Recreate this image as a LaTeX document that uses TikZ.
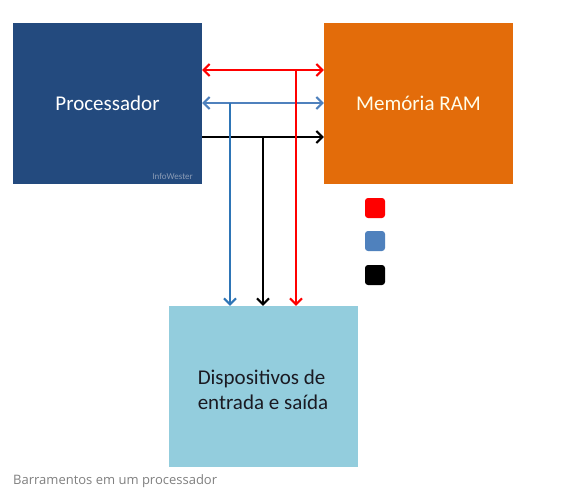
\documentclass[tikz,border=0pt]{standalone}
\usepackage{fontspec}
\setmainfont{Carlito}
\newfontfamily\capfont{Open Sans}
\usetikzlibrary{arrows.meta}
\definecolor{procblue}{HTML}{234A7E}
\definecolor{ramorange}{HTML}{E36C0A}
\definecolor{devblue}{HTML}{93CDDD}
\definecolor{busred}{HTML}{FF0000}
\definecolor{busblue}{HTML}{4F81BD}
\definecolor{busblue2}{HTML}{2E75B6}
\definecolor{devtext}{HTML}{1A1A22}
\definecolor{iwgray}{HTML}{8A9BB5}
\tikzset{
  unit/.style={rectangle, minimum width=189pt, minimum height=161pt, inner sep=0pt, text=white, font=\fontsize{21}{25}\selectfont},
  bustip/.tip={Straight Barb[length=6pt,width=12pt,line width=2pt]},
  bus/.style={line width=2.4pt, -{bustip}},
  dbus/.style={line width=2.4pt, {bustip}-{bustip}},
  legsq/.style={rectangle, rounded corners=3pt, minimum size=20pt, inner sep=0pt}
}
\begin{document}
\begin{tikzpicture}[x=1pt,y=-1pt]
\useasboundingbox[fill=white] (0,0) rectangle (569,497);
\node[unit, fill=procblue] (proc) at (107.5,103.5) {Processador};
\node[unit, fill=ramorange, text=white!92!yellow] (ram) at (418.5,103.5) {Memória RAM};
\node[unit, fill=devblue, text=devtext, font=\fontsize{21}{26}\selectfont] (dev) at (263,386.5) {\raisebox{-5pt}[\height][\depth]{\begin{tabular}{@{}l@{}}Dispositivos de\\[-1pt]entrada e saída\end{tabular}}};
\node[anchor=south east, text=iwgray, font=\fontsize{9}{10}\selectfont, inner sep=0pt] (iw) at (193,180) {InfoWester};
% horizontal buses
\coordinate (r1) at (proc.east |- 0,70);
\coordinate (r2) at (ram.west |- 0,70);
\coordinate (b1) at (proc.east |- 0,103);
\coordinate (b2) at (ram.west |- 0,103);
\coordinate (k1) at (proc.east |- 0,137);
\coordinate (k2) at (ram.west |- 0,137);
\draw[dbus, busred] (r1) -- (r2);
\draw[dbus, busblue] (b1) -- (b2);
\draw[bus, black] (k1) -- (k2);
% vertical buses
\coordinate (rv) at (296,70);
\coordinate (bv) at (230,103);
\coordinate (kv) at (263,137);
\draw[bus, busred] (rv) -- (rv |- dev.north);
\draw[bus, busblue2] (bv) -- (bv |- dev.north);
\draw[bus, black] (kv) -- (kv |- dev.north);
% legend
\node[legsq, fill=busred] (lr) at (375,208) {};
\node[legsq, fill=busblue] (lb) at (375,241) {};
\node[legsq, fill=black] (lk) at (375,275) {};
% caption
\node[anchor=west, text=gray, font=\capfont\fontsize{13}{15}\selectfont, inner sep=0pt] (cap) at (13,481) {Barramentos em um processador};
\end{tikzpicture}
\end{document}
